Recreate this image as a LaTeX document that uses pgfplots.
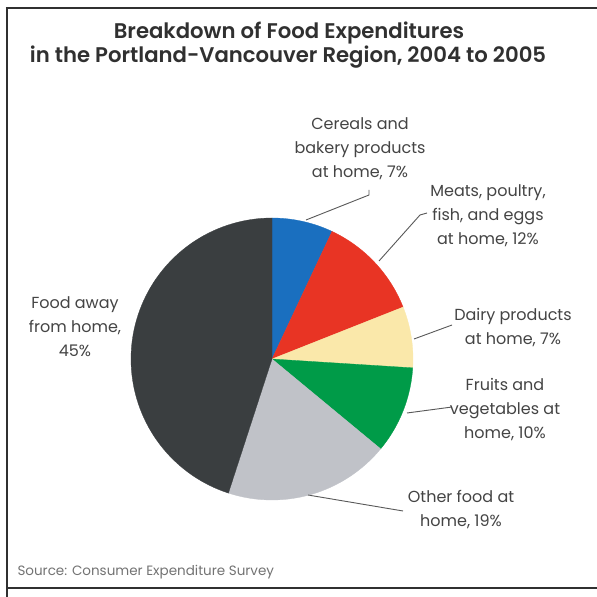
\documentclass[border=0pt]{standalone}
\usepackage{fontspec}
\setmainfont{Poppins}
\newfontfamily\titlefont{Poppins SemiBold}
\usepackage{pgfplots}
\pgfplotsset{compat=1.18}
\definecolor{cBlue}{HTML}{1A6FBF}
\definecolor{cRed}{HTML}{E83424}
\definecolor{cYellow}{HTML}{FAE8AA}
\definecolor{cGreen}{HTML}{009B48}
\definecolor{cLight}{HTML}{C0C2C8}
\definecolor{cDark}{HTML}{3A3E40}
\definecolor{txt}{HTML}{444444}
\definecolor{frame}{HTML}{303030}
% shares of food expenditures (%)
\def\vCereal{7}
\def\vMeat{12}
\def\vDairy{7}
\def\vFruit{10}
\def\vOther{19}
\def\vAway{45}
\begin{document}
\begin{tikzpicture}[x=1pt,y=1pt]
\path[use as bounding box] (0,0) rectangle (597,597);
\fill[white] (0,0) rectangle (597,597);
% frame
\draw[frame, line width=2.5pt] (7,0) -- (7,589);
\draw[frame, line width=2.5pt] (5.75,589) -- (597,589);
\draw[frame, line width=2.5pt] (7,9) -- (597,9);
% angles (clockwise from 12 o'clock)
\pgfmathsetmacro\aA{90}
\pgfmathsetmacro\aB{\aA-3.6*\vCereal}
\pgfmathsetmacro\aC{\aB-3.6*\vMeat}
\pgfmathsetmacro\aD{\aC-3.6*\vDairy}
\pgfmathsetmacro\aE{\aD-3.6*\vFruit}
\pgfmathsetmacro\aF{\aE-3.6*\vOther}
\pgfmathsetmacro\aG{\aF-3.6*\vAway}
\begin{axis}[at={(272pt,238pt)}, anchor=center, width=282pt, height=282pt,
  scale only axis, hide axis, xmin=-1, xmax=1, ymin=-1, ymax=1, clip=false]
\addplot[fill=cBlue, draw=cBlue, line width=0.3pt, domain=\aB:\aA, samples=20] ({cos(x)},{sin(x)}) -- (0,0) -- cycle;
\addplot[fill=cRed, draw=cRed, line width=0.3pt, domain=\aC:\aB, samples=30] ({cos(x)},{sin(x)}) -- (0,0) -- cycle;
\addplot[fill=cYellow, draw=cYellow, line width=0.3pt, domain=\aD:\aC, samples=20] ({cos(x)},{sin(x)}) -- (0,0) -- cycle;
\addplot[fill=cGreen, draw=cGreen, line width=0.3pt, domain=\aE:\aD, samples=25] ({cos(x)},{sin(x)}) -- (0,0) -- cycle;
\addplot[fill=cLight, draw=cLight, line width=0.3pt, domain=\aF:\aE, samples=40] ({cos(x)},{sin(x)}) -- (0,0) -- cycle;
\addplot[fill=cDark, draw=cDark, line width=0.3pt, domain=\aG:\aF, samples=80] ({cos(x)},{sin(x)}) -- (0,0) -- cycle;
\end{axis}
% title
\node[anchor=base, font=\titlefont\fontsize{21.2}{24}\selectfont, text=frame] at (289,558) {Breakdown of Food Expenditures};
\node[anchor=base, font=\titlefont\fontsize{21.2}{24}\selectfont, text=frame] at (288,534) {in the Portland-Vancouver Region, 2004 to 2005};
% leader lines
\begin{scope}[draw=black!65, line width=0.9pt]
\draw (306,377) -- (369,402) -- (369,407);
\draw (379,336) -- (420,382) -- (427,384);
\draw (414,258) -- (452,272);
\draw (407,184) -- (452,190);
\draw (308,102) -- (403,86);
\end{scope}
% labels
\tikzset{lbl/.style={align=center, font=\fontsize{16}{24}\selectfont, text=txt}}
\node[lbl] at (360,448) {Cereals and\\bakery products\\at home, 7\%};
\node[lbl] at (488,381) {Meats, poultry,\\fish, and eggs\\at home, 12\%};
\node[lbl] at (513,269.5) {Dairy products\\at home, 7\%};
\node[lbl] at (505,187) {Fruits and\\vegetables at\\home, 10\%};
\node[lbl] at (461,87) {Other food at\\home, 19\%};
\node[lbl] at (75,270) {Food away\\from home,\\45\%};
% source
\node[anchor=west, font=\fontsize{13.5}{16}\selectfont, text=black!55] at (14,25) {Source: Consumer Expenditure Survey};
\end{tikzpicture}
\end{document}
